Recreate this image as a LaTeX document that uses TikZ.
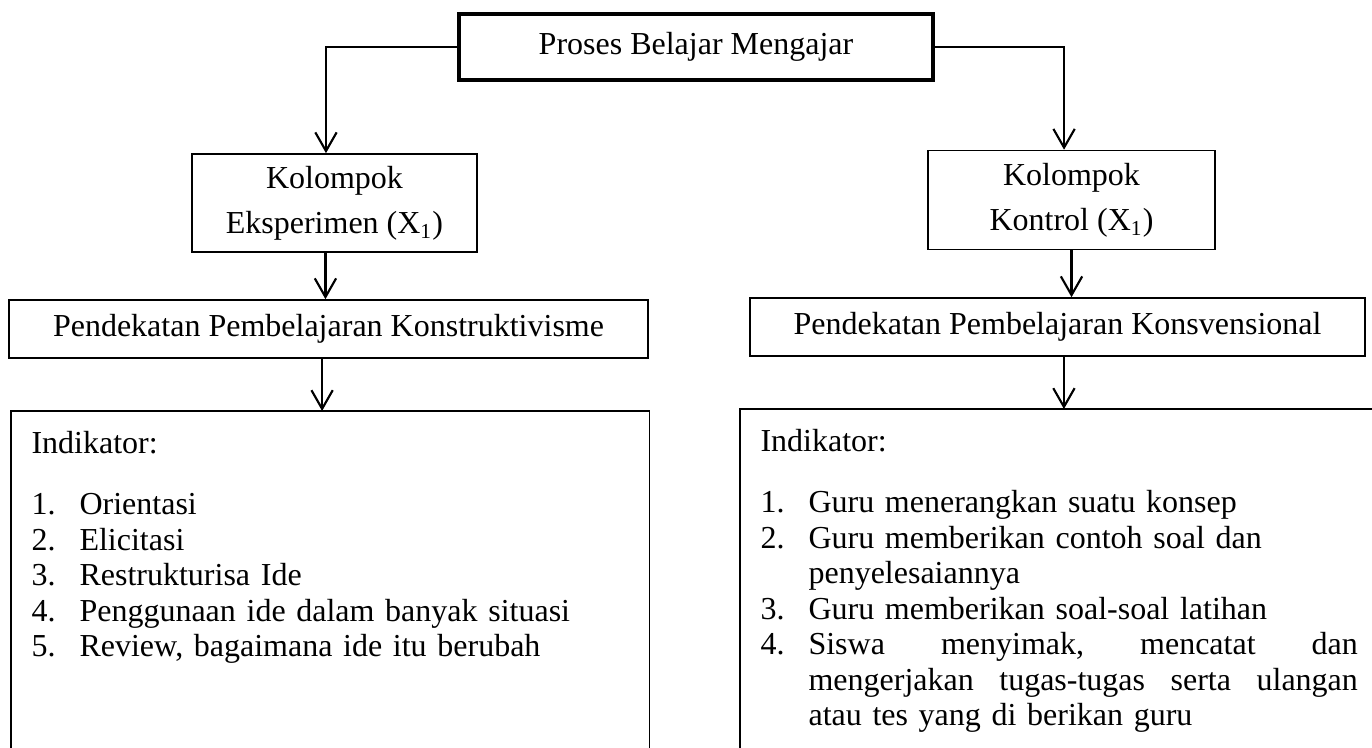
\documentclass[tikz,border=0pt]{standalone}
\usepackage{fontspec}
\setmainfont{Liberation Serif}
\usetikzlibrary{arrows.meta}

\hyphenpenalty=10000
\newcommand{\butir}[2]{\par\noindent\hangindent=18pt\hangafter=1\makebox[18pt][l]{#1}#2}
\newcommand{\baris}[1]{\makebox[206pt][l]{#1}}

\begin{document}
\begin{tikzpicture}[x=1in,y=1in,
  kotak/.style={draw, line width=0.6pt, inner sep=0pt, align=center, font=\fontsize{12pt}{17pt}\selectfont},
  kotaktebal/.style={kotak, line width=1.5pt},
  indikator/.style={anchor=north west, text width=224pt, inner sep=7.5pt, font=\fontsize{12pt}{13.3pt}\selectfont},
  panah/.style={line width=0.8pt, -{Straight Barb[length=7pt,width=8pt]}}]
\useasboundingbox (0,0) rectangle (7.1191,3.8761);
\clip (0,0) rectangle (7.1191,3.8761);
\node[kotaktebal, minimum width=177.75pt, minimum height=24.75pt] (proses) at (3.6115,3.6322) {Proses Belajar Mengajar};
\node[kotak, minimum width=106.9pt, minimum height=36.75pt] (kelEks) at (1.7357,2.8228) {Kolompok\\Eksperimen (X\textsubscript{1})};
\node[kotak, minimum width=107.6pt, minimum height=37.1pt] (kelKon) at (5.5599,2.8383) {Kolompok\\Kontrol (X\textsubscript{1})};
\node[kotak, minimum width=239.6pt, minimum height=21.75pt] (pendKons) at (1.7045,2.1690) {Pendekatan Pembelajaran Konstruktivisme};
\node[kotak, minimum width=230.6pt, minimum height=21.75pt] (pendKonv) at (5.4873,2.1793) {Pendekatan Pembelajaran Konsvensional};
\node[indikator] (indKiri) at (0.0571,1.7435) {Indikator:\par\vspace{9.6pt}
  \butir{1.}{Orientasi}
  \butir{2.}{Elicitasi}
  \butir{3.}{Restrukturisa Ide}
  \butir{4.}{Penggunaan ide dalam banyak situasi}
  \butir{5.}{Review, bagaimana ide itu berubah}\par};
\node[indikator] (indKanan) at (3.8398,1.7538) {Indikator:\par\vspace{9.6pt}
  \butir{1.}{Guru menerangkan suatu konsep}
  \butir{2.}{Guru memberikan contoh soal dan\newline penyelesaiannya}
  \butir{3.}{Guru memberikan soal-soal latihan}
  \butir{4.}{\baris{Siswa\hfill menyimak,\hfill mencatat\hfill dan}\newline
    \baris{mengerjakan\hfill tugas-tugas\hfill serta\hfill ulangan}\newline
    atau tes yang di berikan guru}\par};
\draw[line width=0.6pt] (indKiri.north west) rectangle ([yshift=-160pt]indKiri.north east);
\draw[line width=0.6pt] (indKanan.north west) rectangle ([yshift=-160pt]indKanan.north east);
\draw[panah] (proses.west) -| ([xshift=-3.2pt]kelEks.north);
\draw[panah] (proses.east) -| ([xshift=-2.8pt]kelKon.north);
\draw[panah] ([xshift=-3.4pt]kelEks.south) -- ([xshift=-3.4pt]kelEks.south |- pendKons.north);
\draw[panah] (kelKon.south) -- (kelKon.south |- pendKonv.north);
\draw[panah] ([xshift=-2.4pt]pendKons.south) -- ([xshift=-2.4pt]pendKons.south |- indKiri.north);
\draw[panah] ([xshift=2.4pt]pendKonv.south) -- ([xshift=2.4pt]pendKonv.south |- indKanan.north);
\end{tikzpicture}
\end{document}
